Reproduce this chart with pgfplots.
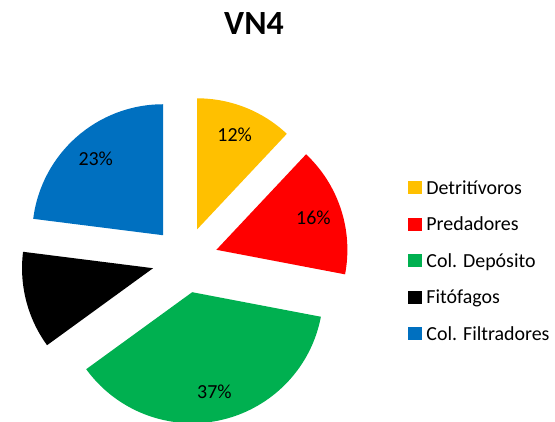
\documentclass[border=0pt]{standalone}
\usepackage{pgfplots}
\pgfplotsset{compat=1.18}
\usepackage{fontspec}
\setmainfont{Carlito}
\definecolor{detr}{HTML}{FFC000}
\definecolor{pred}{HTML}{FF0000}
\definecolor{coldep}{HTML}{00B050}
\definecolor{fito}{HTML}{000000}
\definecolor{colfil}{HTML}{0070C0}
\tikzset{plab/.style={font=\fontsize{20}{22}\selectfont, text=black}}
\begin{document}
\begin{tikzpicture}
\path[use as bounding box] (0,0) rectangle (555bp,422bp);
\begin{axis}[
  at={(0,0)}, anchor=south west,
  scale only axis, width=555bp, height=422bp,
  xmin=0, xmax=555, ymin=0, ymax=422,
  hide axis, clip=false,
  legend cell align=left,
  legend image code/.code={\fill[draw=none,#1] (0bp,-5bp) rectangle (14bp,8bp); \path (17bp,0bp);},
  legend style={at={(axis cs:408,243)}, anchor=north west, draw=none, fill=none,
    font=\fontsize{20}{22}\selectfont, row sep=16.5bp, inner sep=0pt,
    nodes={inner sep=1bp, text height=14bp, text depth=4bp}},
]
\addlegendimage{fill=detr}\addlegendentry{Detritívoros}
\addlegendimage{fill=pred}\addlegendentry{Predadores}
\addlegendimage{fill=coldep}\addlegendentry{Col. Depósito}
\addlegendimage{fill=fito}\addlegendentry{Fitófagos}
\addlegendimage{fill=colfil}\addlegendentry{Col. Filtradores}
\def\cx{185}\def\cy{162}
\gdef\astart{90}
\foreach \p/\c/\lab in {12/detr/12\%, 16/pred/16\%, 37/coldep/37\%, 12/fito/{}, 23/colfil/23\%}{
  \pgfmathsetmacro\aend{\astart-3.6*\p}
  \pgfmathsetmacro\amid{(\astart+\aend)/2}
  \pgfmathsetmacro\ox{\cx+33*cos(\amid)}
  \pgfmathsetmacro\oy{\cy+33*sin(\amid)}
  \pgfmathsetmacro\lx{\cx+135*cos(\amid)}
  \pgfmathsetmacro\ly{\cy+135*sin(\amid)}
  \edef\doit{\noexpand\fill[\c] (axis cs:\ox,\oy) -- ++(\astart:131bp) arc[start angle=\astart, end angle=\aend, radius=131bp] -- cycle;
    \noexpand\node[plab] at (axis cs:\lx,\ly) {\lab};}
  \doit
  \xdef\astart{\aend}
}
\node[font=\fontsize{34}{38}\selectfont\bfseries] at (axis cs:254,398) {VN4};
\end{axis}
\end{tikzpicture}
\end{document}
